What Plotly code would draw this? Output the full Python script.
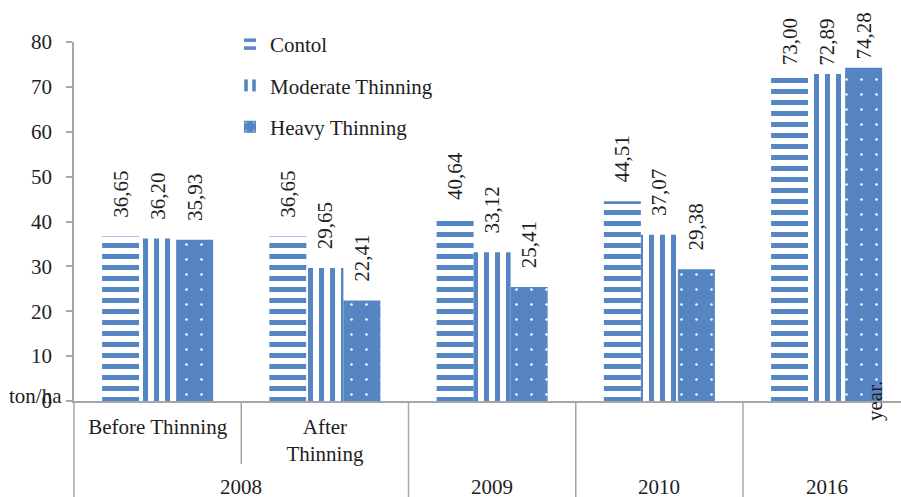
import plotly.graph_objects as go

# Categories along the x axis (inner level) and the year each belongs to (outer level)
periods = ["Before Thinning", "After Thinning", "2009", "2010", "2016"]
period_ticktext = ["Before Thinning", "After<br>Thinning", "", "", ""]
years = ["2008", "2008", "2009", "2010", "2016"]

# Biomass, ton/ha
control = [36.65, 36.65, 40.64, 44.51, 73.00]
moderate = [36.20, 29.65, 33.12, 37.07, 72.89]
heavy = [35.93, 22.41, 25.41, 29.38, 74.28]

y_ticks = [0, 10, 20, 30, 40, 50, 60, 70, 80]

BLUE = "#5585C3"
TEXT = "#1e1e1e"
GREY = "#a6a6a6"
FONT = "Liberation Serif, Times New Roman, serif"
FS = 21

W, H = 901, 497
ML, MR, MT, MB = 74, 0, 42, 96
plot_w = W - ML - MR
plot_h = H - MT - MB
cat_px = 167.25  # width of one category slot
NBSP = "\u00a0"


def comma(v):
    # decimal comma; leading non-breaking spaces keep the rotated label clear of
    # the bar, with less room for the tallest bars so the label stays in the figure
    pad = 1 if v > 70 else 3
    return NBSP * pad + f"{v:.2f}".replace(".", ",")


series = [
    ("Contol", control,
     dict(shape="-", bgcolor="white", fgcolor=BLUE, fgopacity=1, size=11, solidity=0.45)),
    ("Moderate Thinning", moderate,
     dict(shape="|", bgcolor="white", fgcolor=BLUE, fgopacity=1, size=11, solidity=0.45)),
    ("Heavy Thinning", heavy,
     dict(shape=".", bgcolor=BLUE, fgcolor="white", fgopacity=1, size=15, solidity=0.022)),
]

fig = go.Figure()
for name, vals, pat in series:
    fig.add_trace(go.Bar(
        x=periods, y=vals, name=name, legendgroup=name,
        marker=dict(color=BLUE, pattern=pat, line=dict(width=0)),
        text=[comma(v) for v in vals],
        textposition="outside", textangle=-90, constraintext="none",
        textfont=dict(family=FONT, size=FS, color=TEXT),
        cliponaxis=False,
    ))

# Divider lines under the category axis
shapes = [dict(type="line", xref="paper", yref="paper", x0=0, x1=0,
               y0=0, y1=-0.3, line=dict(color=GREY, width=1.5))]
for i in range(len(years) - 1):
    full = years[i] != years[i + 1]
    shapes.append(dict(type="line", xref="x", yref="paper",
                       x0=i + 0.5, x1=i + 0.5, y0=0,
                       y1=-0.3 if full else -(464 - 401) / plot_h,
                       line=dict(color=GREY, width=1.5)))

# Outer-level year labels, centred on their group of categories
annotations = []
start = 0
for i in range(1, len(years) + 1):
    if i == len(years) or years[i] != years[start]:
        annotations.append(dict(
            text=years[start], xref="x", yref="paper",
            x=(start + i - 1) / 2, y=0, yanchor="top", yshift=-72,
            showarrow=False, font=dict(family=FONT, size=FS, color=TEXT)))
        start = i

annotations.append(dict(text="ton/ha", xref="paper", yref="paper",
                        x=(64 - ML) / plot_w, y=0, xanchor="right", yanchor="middle",
                        yshift=5, showarrow=False,
                        font=dict(family=FONT, size=FS, color=TEXT)))
annotations.append(dict(text="year.", xref="paper", yref="paper",
                        x=(875 - ML) / plot_w, y=0, xanchor="center", yanchor="middle",
                        textangle=-90, showarrow=False,
                        font=dict(family=FONT, size=FS, color=TEXT)))

fig.update_layout(
    width=W, height=H, autosize=False,
    margin=dict(l=ML, r=MR, t=MT, b=MB, pad=0),
    paper_bgcolor="white", plot_bgcolor="white",
    font=dict(family=FONT, size=FS, color=TEXT),
    barmode="group", bargap=0.336, bargroupgap=0,
    showlegend=True,
    legend=dict(x=(230 - ML) / plot_w, y=1 + (MT - 24) / plot_h,
                xanchor="left", yanchor="top", tracegroupgap=11,
                bgcolor="rgba(0,0,0,0)", font=dict(family=FONT, size=FS, color=TEXT)),
    xaxis=dict(type="category", categoryorder="array", categoryarray=periods,
               tickvals=periods, ticktext=period_ticktext,
               range=[-0.5, -0.5 + plot_w / cat_px],
               showline=True, linecolor=GREY, linewidth=1.5,
               ticks="", ticklabelstandoff=6, showgrid=False, zeroline=False,
               tickfont=dict(family=FONT, size=FS, color=TEXT)),
    yaxis=dict(range=[0, 80], tickvals=y_ticks, showline=True, linecolor=GREY,
               linewidth=1.5, ticks="outside", ticklen=6, tickcolor=GREY, tickwidth=1.5,
               ticklabelstandoff=10, showgrid=False, zeroline=False,
               tickfont=dict(family=FONT, size=FS, color=TEXT)),
    shapes=shapes, annotations=annotations,
)

fig.write_html("out.html")
